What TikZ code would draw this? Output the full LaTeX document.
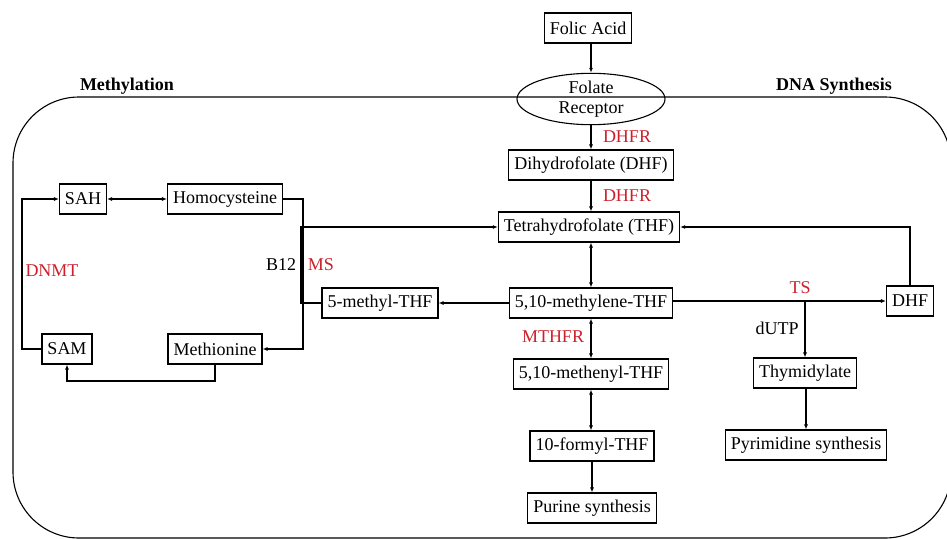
\documentclass[tikz,border=0pt]{standalone}
\usepackage{fontspec}
\setmainfont{Liberation Serif}
\usepackage{tikz}
\usetikzlibrary{shapes,arrows.meta}

\definecolor{enzred}{RGB}{205,32,44}
\newcommand{\pathfont}{\fontsize{18}{20}\selectfont}

\tikzset{
  box/.style={draw, line width=1.1pt, inner xsep=5.5pt, inner ysep=0pt, minimum height=30pt, font=\pathfont},
  enz/.style={text=enzred, inner sep=0pt, font=\pathfont},
  cofac/.style={inner sep=0pt, font=\pathfont},
  region/.style={inner sep=0pt, font=\pathfont\bfseries},
  conn/.style={line width=1.1pt},
  >={Latex[length=5pt,width=4pt]}
}

\begin{document}
\begin{tikzpicture}[x=1pt,y=-1pt]
\clip (0,0) rectangle (947,538);

% cell boundary
\draw[line width=1.1pt,rounded corners=66pt] (13,97) rectangle (951,538);
\node[region] (methyl) at (127,86) {Methylation};
\node[region] (dnasyn) at (834,86) {DNA Synthesis};

% folate entry
\node[box] (folic) at (588,28) {Folic Acid};
\node[draw, ellipse, line width=1.1pt, minimum width=148pt, minimum height=40pt, inner sep=0pt, align=center, font=\pathfont] (receptor) at (591,99) {Folate\\Receptor};

% central column
\node[box] (dhf) at (591,165) {Dihydrofolate (DHF)};
\node[box] (thf) at (589,227) {Tetrahydrofolate (THF)};
\node[box] (mlene) at (591,303) {5,10-methylene-THF};
\node[box] (menyl) at (591,374) {5,10-methenyl-THF};
\node[box] (formyl) at (592,446) {10-formyl-THF};
\node[box] (purine) at (592,508) {Purine synthesis};
\node[box] (methyl5) at (380,303) {5-methyl-THF};

% methylation cycle
\node[box] (sah) at (83,199) {SAH};
\node[box] (homo) at (225,199) {Homocysteine};
\node[box] (meth) at (215,349) {Methionine};
\node[box] (sam) at (67,349) {SAM};

% DNA synthesis branch
\node[box] (dhf2) at (910,301) {DHF};
\node[box] (thym) at (805,373) {Thymidylate};
\node[box] (pyr) at (806,445) {Pyrimidine synthesis};

% labels
\node[enz] (dhfr1) at (627,137) {DHFR};
\node[enz] (dhfr2) at (627,196) {DHFR};
\node[enz] (mthfr) at (553,337) {MTHFR};
\node[enz] (ms) at (321,265) {MS};
\node[enz] (dnmt) at (52,271) {DNMT};
\node[enz] (ts) at (800,288) {TS};
\node[cofac] (b12) at (281,265) {B12};
\node[cofac] (dutp) at (777,328) {dUTP};

\coordinate (msx) at (303,0);
\coordinate (b12x) at (301,0);
\coordinate (dnmtx) at (22,0);
\coordinate (samloop) at (0,381);
\coordinate (tsx) at (805,0);

% connectors
\draw[conn,->] (receptor.north |- folic.south) -- (receptor.north);
\draw[conn,->] (receptor.south) -- (dhf.north);
\draw[conn,->] (dhf.south) -- (thf.north -| dhf.south);
\draw[conn,<->] (thf.south -| mlene.north) -- (mlene.north);
\draw[conn,<->] (mlene.south) -- (menyl.north);
\draw[conn,<->] (menyl.south) -- (formyl.north -| menyl.south);
\draw[conn,->] (formyl.south) -- (purine.north);
\draw[conn,->] (mlene.west) -- (methyl5.east);
\draw[conn,->] (methyl5.west) -| (b12x |- thf.west) -- (thf.west);
\draw[conn,->] (homo.east) -- (homo.east -| msx) -- (meth.east -| msx) -- (meth.east);
\draw[conn,<->] (sah.east) -- (homo.west);
\draw[conn,->] (sam.west) -- (sam.west -| dnmtx) |- (sah.west);
\draw[conn,->] (meth.south) -- (meth.south |- samloop) -| (sam.south);
\draw[conn,->] (mlene.east |- dhf2.west) -- (dhf2.west);
\draw[conn,->] (tsx |- dhf2.west) -- (thym.north);
\draw[conn,->] (thym.south -| pyr.north) -- (pyr.north);
\draw[conn,->] (dhf2.north) |- (thf.east);
\end{tikzpicture}
\end{document}
